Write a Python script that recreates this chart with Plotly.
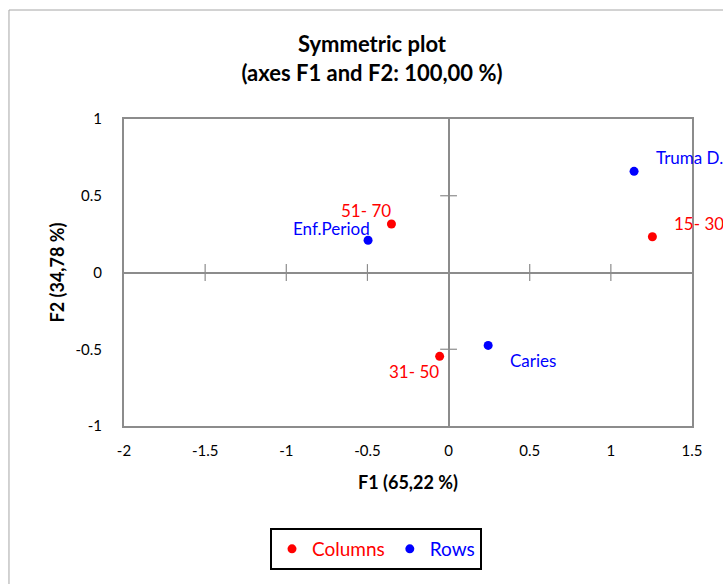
import plotly.graph_objects as go

# Correspondence analysis coordinates (F1, F2)
col_labels = ["15- 30", "31- 50", "51- 70"]
col_f1 = [1.256, -0.055, -0.352]
col_f2 = [0.233, -0.546, 0.316]

row_labels = ["Truma D.", "Caries", "Enf.Period"]
row_f1 = [1.143, 0.244, -0.496]
row_f2 = [0.659, -0.475, 0.210]

x_ticks = [-2, -1.5, -1, -0.5, 0, 0.5, 1, 1.5]
y_ticks = [-1, -0.5, 0, 0.5, 1]

RED = "#FF0000"
BLUE = "#0000FF"
AXIS_GREY = "#8C8C8C"
FONT = "Lato, 'Liberation Sans', sans-serif"

fig = go.Figure()

# cross ticks on the zero lines
inner_x = [v for v in x_ticks if v not in (0, x_ticks[0], x_ticks[-1])]
inner_y = [v for v in y_ticks if v not in (0, y_ticks[0], y_ticks[-1])]
fig.add_trace(go.Scatter(
    x=inner_x, y=[0] * len(inner_x), mode="markers", showlegend=False,
    hoverinfo="skip",
    marker=dict(symbol="line-ns-open", size=12, color=AXIS_GREY,
                line=dict(color=AXIS_GREY, width=1.2)),
))
fig.add_trace(go.Scatter(
    x=[0] * len(inner_y), y=inner_y, mode="markers", showlegend=False,
    hoverinfo="skip",
    marker=dict(symbol="line-ew-open", size=12, color=AXIS_GREY,
                line=dict(color=AXIS_GREY, width=1.2)),
))

fig.add_trace(go.Scatter(
    x=col_f1, y=col_f2, mode="markers",
    name=f"<span style='color:{RED}'>Columns</span>",
    marker=dict(color=RED, size=9),
))
fig.add_trace(go.Scatter(
    x=row_f1, y=row_f2, mode="markers",
    name=f"<span style='color:{BLUE}'>Rows</span>",
    marker=dict(color=BLUE, size=9),
))

# point labels: (anchor, xshift, yshift)
col_pos = {"15- 30": ("left", 20, 13), "31- 50": ("right", 1, -15), "51- 70": ("right", 2, 13)}
row_pos = {"Truma D.": ("left", 20, 14), "Caries": ("left", 20, -15), "Enf.Period": ("right", 4, 12)}

for labels, xs, ys, color, pos in [
    (col_labels, col_f1, col_f2, RED, col_pos),
    (row_labels, row_f1, row_f2, BLUE, row_pos),
]:
    for lab, xv, yv in zip(labels, xs, ys):
        anchor, dx, dy = pos[lab]
        fig.add_annotation(
            x=xv, y=yv, text=lab, showarrow=False,
            xanchor=anchor, yanchor="middle", xshift=dx, yshift=dy,
            font=dict(family=FONT, size=17, color=color),
        )

# outer chart frame
fig.add_shape(
    type="rect", xref="paper", yref="paper",
    x0=-0.2025, x1=1.1, y0=-0.6, y1=1.355,
    line=dict(color="#A6A6A6", width=1), layer="below",
)

axis_common = dict(
    showgrid=False, ticks="", showline=True, mirror=True,
    linecolor=AXIS_GREY, linewidth=2,
    zeroline=True, zerolinecolor=AXIS_GREY, zerolinewidth=1.5,
    tickfont=dict(family=FONT, size=15, color="#000000"),
)

fig.update_layout(
    width=723, height=584,
    margin=dict(l=124, r=31, t=119, b=158),
    plot_bgcolor="white", paper_bgcolor="white",
    font=dict(family=FONT, color="#000000"),
    title=dict(
        text="<b>Symmetric plot<br>(axes F1 and F2: 100,00 %)</b>",
        x=372 / 723, xanchor="center", y=1 - 52 / 584, yanchor="top",
        font=dict(family=FONT, size=22, color="#000000"),
    ),
    xaxis=dict(
        range=[-2, 1.5], tickvals=x_ticks, ticktext=[f"{v:g}" for v in x_ticks],
        ticklabelstandoff=10,
        title=dict(text="<b>F1 (65,22 %)</b>", font=dict(family=FONT, size=18), standoff=18),
        **axis_common,
    ),
    yaxis=dict(
        range=[-1, 1], tickvals=y_ticks, ticktext=[f"{v:g}" for v in y_ticks],
        ticklabelstandoff=17,
        title=dict(text="<b>F2 (34,78 %)</b>", font=dict(family=FONT, size=18), standoff=6),
        **axis_common,
    ),
    legend=dict(
        orientation="h", x=(270 - 124) / 568, y=(426 - 528) / 307,
        xanchor="left", yanchor="top",
        bordercolor="#000000", borderwidth=2, bgcolor="white",
        font=dict(family=FONT, size=19), itemwidth=30,
    ),
)

fig.write_html("out.html")
